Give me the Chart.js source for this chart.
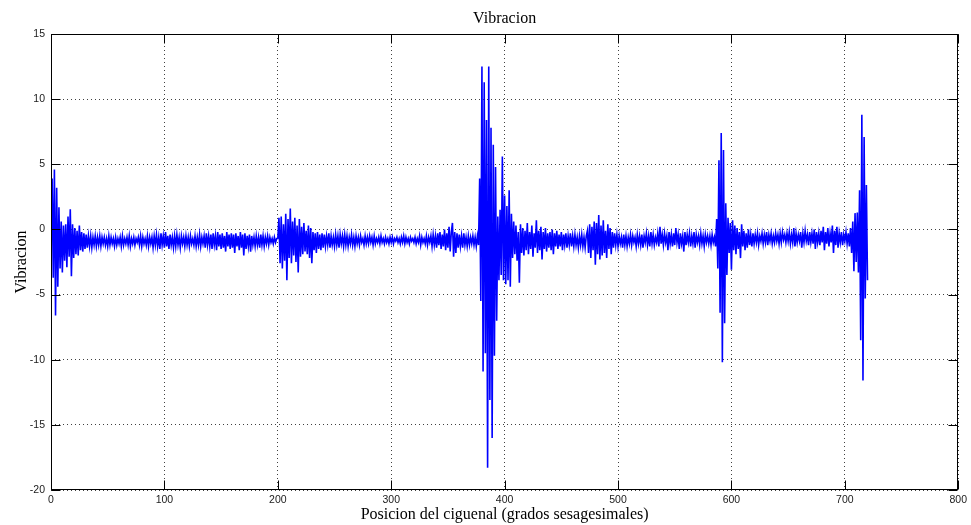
<!DOCTYPE html>
<html>
<head>
<meta charset="utf-8">
<title>Vibracion</title>
<script src="https://cdn.jsdelivr.net/npm/chart.js@4"></script>
<style>
  html, body { margin: 0; padding: 0; background: #fff; }
  #wrap { width: 971px; height: 525px; }
</style>
</head>
<body>
<div id="wrap"><canvas id="vibChart" width="971" height="525"></canvas></div>
<script>
// crank position of the first sample and spacing between samples (degrees)
const startDeg = 0;
const stepDeg = 1;

// vibration, one value per degree (0..720)
const vibracion = [
  -1.5, 3.9, -3.7, 4.6, -6.6, 3.2, -4.4, 1.7, -3.0, 0.6, -3.3, 0.3, -2.4, 0.4, -2.9, 1.0, -2.1, 1.55, -3.6, 0.4,   // 0
  -2.2, 0.1, -1.9, -0.1, -2.0, 0.3, -1.6, -0.2, -1.7, -0.3, -1.5, -0.4, -1.4, -0.5, -1.3, -0.5, -1.4, -0.6, -1.2, -0.5, // 20
  -1.3, -0.6, -1.2, -0.5, -1.3, -0.6, -1.1, -0.6, -1.2, -0.7, -1.3, -0.5, -1.2, -0.6, -1.1, -0.7, -1.3, -0.6, -1.2, -0.7, // 40
  -1.1, -0.6, -1.3, -0.5, -1.2, -0.7, -1.1, -0.6, -1.2, -0.5, -1.3, -0.7, -1.1, -0.6, -1.2, -0.7, -1.0, -0.6, -1.2, -0.5, // 60
  -1.3, -0.6, -1.1, -0.7, -1.2, -0.5, -1.3, -0.6, -1.1, -0.6, -1.4, -0.5, -1.2, -0.4, -1.3, -0.6, -1.5, -0.3, -1.2, -0.5, // 80
  -1.4, -0.2, -1.3, -0.5, -1.5, -0.4, -1.2, -0.6, -1.4, -0.5, -1.3, -0.4, -1.2, -0.6, -1.4, -0.5, -1.1, -0.6, -1.3, -0.5, // 100
  -1.2, -0.6, -1.3, -0.5, -1.1, -0.7, -1.2, -0.5, -1.3, -0.6, -1.2, -0.4, -1.3, -0.6, -1.1, -0.5, -1.4, -0.3, -1.2, -0.5, // 120
  -1.3, -0.4, -1.5, -0.3, -1.2, -0.5, -1.6, -0.2, -1.3, -0.4, -1.5, -0.3, -1.4, -0.5, -1.7, -0.2, -1.3, -0.4, -1.5, -0.3, // 140
  -1.4, -0.4, -1.8, -0.3, -1.3, -0.5, -1.6, -0.2, -1.4, -0.4, -2.0, -0.3, -1.5, -0.5, -1.3, -0.4, -1.7, -0.5, -1.2, -0.6, // 160
  -1.3, -0.5, -1.2, -0.6, -1.4, -0.4, -1.2, -0.5, -1.3, -0.6, -1.1, -0.5, -1.2, -0.6, -1.0, -0.7, -1.1, -0.6, -1.0, -0.7, // 180
  -0.7, 0.9, -2.6, 1.0, -3.0, 0.4, -2.4, 1.2, -3.9, 0.8, -2.2, 1.6, -2.6, 0.6, -2.0, 0.9, -2.5, 0.3, -3.3, 0.8,       // 200
  -2.1, 0.2, -1.9, 0.5, -1.7, -0.1, -1.9, 0.3, -2.2, 0.1, -2.6, -0.2, -1.6, -0.3, -1.8, -0.2, -1.5, -0.4, -1.6, -0.3,   // 220
  -1.4, -0.4, -1.3, -0.5, -1.2, -0.3, -1.4, -0.5, -1.2, -0.6, -1.3, -0.4, -1.2, -0.5, -1.4, -0.4, -1.1, -0.5, -1.3, -0.4, // 240
  -1.2, -0.5, -1.3, -0.6, -1.1, -0.4, -1.2, -0.6, -1.3, -0.5, -1.1, -0.6, -1.2, -0.5, -1.0, -0.7, -1.2, -0.5, -1.1, -0.6, // 260
  -1.1, -0.5, -1.0, -0.6, -1.2, -0.5, -1.1, -0.7, -1.0, -0.6, -1.1, -0.5, -1.0, -0.7, -1.1, -0.6, -1.0, -0.7, -1.1, -0.6, // 280
  -1.0, -0.6, -1.1, -0.7, -0.9, -0.6, -1.0, -0.7, -1.1, -0.6, -1.0, -0.5, -1.1, -0.6, -1.0, -0.7, -1.1, -0.6, -0.9, -0.7, // 300
  -1.0, -0.6, -1.1, -0.7, -1.0, -0.5, -1.2, -0.6, -1.0, -0.7, -1.1, -0.5, -1.2, -0.6, -1.0, -0.5, -1.3, -0.4, -1.2, -0.5, // 320
  -1.4, -0.3, -1.2, -0.2, -1.5, -0.4, -1.3, 0.0, -1.6, -0.3, -1.4, 0.2, -1.7, -0.2, 0.5, -2.1, -0.2, -1.8, -0.3, -1.4,   // 340
  -0.4, -1.3, -0.5, -1.4, -0.3, -1.2, -0.6, -1.3, -0.5, -1.2, -0.6, -1.1, -0.5, -1.2, -0.6, -1.3, -0.5, -1.2, 3.9, -5.5,  // 360
  12.5, -10.9, 11.3, -9.5, 8.4, -18.3, 12.5, -13.1, 7.8, -16.0, 6.5, -9.7, 4.8, -7.0, 1.0, -3.9, 1.5, -3.5, 5.6, -3.9,  // 380
  2.6, -4.2, 1.8, -3.9, 3.0, -4.4, 1.2, -2.2, 0.6, -1.9, 0.3, -2.4, -0.2, -4.1, 0.4, -1.8, 0.1, -2.0, -0.1, -1.6,       // 400
  0.5, -1.9, -0.2, -1.5, 0.3, -2.1, -0.3, -1.4, 0.7, -1.8, -0.1, -1.6, 0.2, -2.3, -0.2, -1.5, 0.1, -1.7, -0.3, -1.4,    // 420
  -0.2, -1.6, 0.0, -1.9, -0.3, -1.3, -0.1, -1.5, -0.4, -1.3, -0.2, -1.6, -0.4, -1.2, -0.3, -1.4, -0.5, -1.2, -0.3, -1.3, // 440
  -0.5, -1.3, -0.4, -1.2, -0.6, -1.4, -0.5, -1.2, -0.4, -1.3, -0.6, -1.4, -0.5, -0.1, -1.8, 0.4, -2.2, 0.2, -1.6, 0.6,  // 460
  -2.7, 0.5, -1.9, 1.1, -2.3, 0.3, -2.0, 0.7, -1.8, -0.1, -2.2, 0.4, -1.5, 0.1, -1.9, -0.2, -1.4, -0.3, -1.2, -0.4,     // 480
  -1.3, -0.5, -1.1, -0.6, -1.4, -0.4, -1.2, -0.5, -1.3, -0.6, -1.1, -0.4, -1.2, -0.5, -1.0, -0.6, -1.3, -0.4, -1.1, -0.5, // 500
  -1.2, -0.4, -1.4, -0.5, -1.0, -0.3, -1.2, -0.5, -1.3, -0.2, -1.1, -0.4, -1.2, -0.6, -1.0, -0.3, -1.3, 0.2, -1.1, -0.4,  // 520
  -1.2, -0.3, -1.0, -0.5, -1.6, -0.2, -1.1, -0.4, -1.3, -0.3, -1.2, 0.1, -1.0, -0.4, -1.5, -0.3, -1.1, -0.5, -1.7, -0.2,  // 540
  -1.2, -0.4, -1.0, -0.3, -1.3, -0.5, -1.1, -0.2, -1.4, -0.4, -1.0, -0.5, -1.2, -0.3, -1.1, -0.5, -1.3, -0.4, -1.0, -0.5, // 560
  -1.1, -0.5, -1.2, -0.4, -1.0, -0.6, -1.3, 0.8, -3.0, 5.3, -6.4, 7.4, -10.2, 6.1, -7.2, 2.0, -3.5, 0.9, -1.8, 0.5,     // 580
  -3.1, 0.7, -1.6, 0.3, -1.9, 0.1, -1.5, -0.2, -2.2, 0.4, -1.3, -0.1, -1.6, -0.3, -1.4, 0.0, -1.2, -0.4, -1.3, -0.3,    // 600
  -1.1, -0.4, -1.0, -0.3, -1.2, -0.5, -0.9, -0.3, -1.1, -0.4, -1.0, -0.2, -1.2, -0.4, -0.9, -0.3, -1.1, -0.5, -1.0, -0.3, // 620
  -0.9, -0.4, -1.1, -0.3, -1.0, -0.2, -0.8, -0.4, -1.0, -0.3, -0.9, -0.2, -1.1, -0.4, -1.0, 0.1, -1.3, -0.3, -1.0, -0.4,  // 640
  -0.9, -0.2, -1.4, -0.3, -1.0, -0.1, -0.9, -0.4, -1.2, -0.2, -1.0, -0.3, -1.1, 0.0, -1.5, -0.2, -1.0, -0.3, -1.2, -0.1,  // 660
  -1.0, 0.2, -1.6, -0.2, -1.1, 0.1, -1.3, -0.3, -1.0, 0.3, -1.8, -0.1, -1.2, 0.2, -1.4, -0.3, -1.0, -0.2, -1.2, -0.4,    // 680
  -0.9, -0.2, -1.1, -0.3, -1.3, 0.1, -1.8, 0.6, -3.2, 1.25, -2.5, 1.3, -3.3, 3.0, -8.5, 8.8, -11.6, 7.1, -5.3, 3.4, -3.9 // 700
];

const xTicks = [0, 100, 200, 300, 400, 500, 600, 700, 800];
const yTicks = [-20, -15, -10, -5, 0, 5, 10, 15];

const serif = '"Liberation Serif", "Times New Roman", Times, serif';
const sans = '"Liberation Sans", Arial, Helvetica, sans-serif';

// matlab style box with the tick marks pointing inwards
const boxPlugin = {
    id: 'matlabBox',
    afterDraw(chart) {
        const {ctx, chartArea: a, scales: {x, y}} = chart;
        const len = 9;
        const L = Math.round(a.left) + 0.5, R = Math.round(a.right) - 0.5;
        const T = Math.round(a.top) + 0.5, B = Math.round(a.bottom) - 0.5;
        ctx.save();
        ctx.strokeStyle = '#000';
        ctx.lineWidth = 1;
        ctx.beginPath();
        xTicks.forEach(v => {
            const px = Math.round(x.getPixelForValue(v)) + 0.5;
            ctx.moveTo(px, B); ctx.lineTo(px, B - len);
            ctx.moveTo(px, T); ctx.lineTo(px, T + len);
        });
        yTicks.forEach(v => {
            const py = Math.round(y.getPixelForValue(v)) + 0.5;
            ctx.moveTo(L, py); ctx.lineTo(L + len, py);
            ctx.moveTo(R, py); ctx.lineTo(R - len, py);
        });
        ctx.stroke();
        ctx.strokeRect(L, T, R - L, B - T);
        ctx.restore();
    }
};

const points = vibracion.map((v, i) => ({x: startDeg + i * stepDeg, y: v}));

let ctx = document.getElementById('vibChart').getContext('2d');
let chartInstance = new Chart(ctx, {
    type: 'line',
    data: {
        datasets: [{
            data: points,
            borderColor: '#0000ff',
            borderWidth: 1.6,
            borderJoinStyle: 'miter',
            pointRadius: 0,
            tension: 0,
            fill: false
        }]
    },
    options: {
        responsive: false,
        animation: false,
        parsing: false,
        normalized: true,
        layout: { padding: { left: 0, right: 12, top: 0, bottom: 0 } },
        plugins: {
            legend: { display: false },
            tooltip: { enabled: false },
            title: {
                display: true,
                text: 'Vibracion',
                fullSize: false,
                color: '#000',
                font: { family: serif, size: 16, weight: 'normal' },
                padding: { top: 9.6, bottom: 5.2 }
            }
        },
        scales: {
            x: {
                type: 'linear',
                min: 0,
                max: 800,
                afterBuildTicks: s => { s.ticks = xTicks.map(v => ({value: v})); },
                afterFit: s => { s.height = 35; },
                ticks: {
                    color: '#1a1a1a',
                    font: { family: sans, size: 10.5 },
                    padding: 4,
                    maxRotation: 0,
                    autoSkip: false
                },
                grid: { color: 'rgba(0,0,0,0.75)', lineWidth: 1, drawTicks: false },
                border: { display: false, dash: [1, 3] },
                title: {
                    display: true,
                    text: 'Posicion del ciguenal (grados sesagesimales)',
                    color: '#000',
                    font: { family: serif, size: 16, weight: 'normal' },
                    padding: { top: 0, bottom: 0.5 }
                }
            },
            y: {
                type: 'linear',
                min: -20,
                max: 15,
                afterBuildTicks: s => { s.ticks = yTicks.map(v => ({value: v})); },
                afterFit: s => { s.width = 51; },
                ticks: {
                    color: '#1a1a1a',
                    font: { family: sans, size: 10.5 },
                    padding: 6
                },
                grid: { color: 'rgba(0,0,0,0.75)', lineWidth: 1, drawTicks: false },
                border: { display: false, dash: [1, 3] },
                title: {
                    display: true,
                    text: 'Vibracion',
                    color: '#000',
                    font: { family: serif, size: 16, weight: 'normal' },
                    padding: { top: 12, bottom: 0 }
                }
            }
        }
    },
    plugins: [boxPlugin]
});
</script>
</body>
</html>
